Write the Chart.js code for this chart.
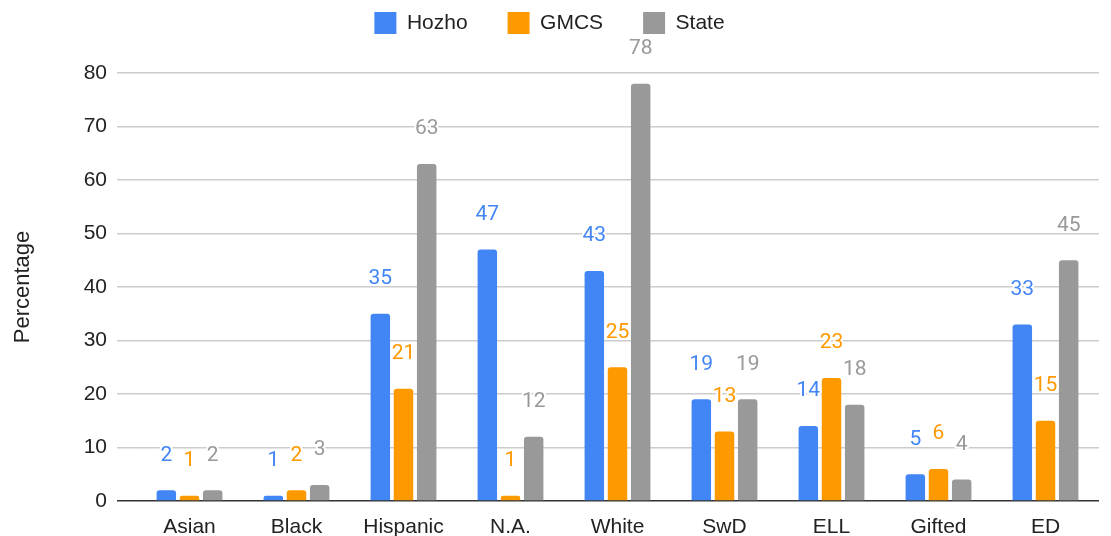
<!DOCTYPE html>
<html>
<head>
<meta charset="utf-8">
<script src="https://cdn.jsdelivr.net/npm/chart.js@4"></script>
<style>
  html, body { margin: 0; padding: 0; background: #fff; }
  #wrap { width: 1111px; height: 536px; position: relative; }
</style>
</head>
<body>
<div id="wrap"><canvas id="demoChart"></canvas></div>
<script>
const categories = ["Asian", "Black", "Hispanic", "N.A.", "White", "SwD", "ELL", "Gifted", "ED"];
const hozho = [2, 1, 35, 47, 43, 19, 14, 5, 33];
const gmcs = [1, 2, 21, 1, 25, 13, 23, 6, 15];
const state = [2, 3, 63, 12, 78, 19, 18, 4, 45];
const seriesNames = ["Hozho", "GMCS", "State"];
const seriesColors = ["#4285F4", "#FF9900", "#999999"];
const yTicks = [0, 10, 20, 30, 40, 50, 60, 70, 80];

// draws the value above each bar, with a white halo like the original
const valueLabels = {
    id: 'valueLabels',
    afterDatasetsDraw(chart) {
        const ctx = chart.ctx;
        chart.data.datasets.forEach((ds, i) => {
            chart.getDatasetMeta(i).data.forEach((bar, j) => {
                const txt = String(ds.data[j]);
                ctx.save();
                ctx.font = '21px Roboto';
                ctx.textAlign = 'center';
                ctx.textBaseline = 'middle';
                ctx.lineJoin = 'round';
                ctx.lineWidth = 4;
                ctx.strokeStyle = '#ffffff';
                ctx.strokeText(txt, bar.x, bar.y - 35);
                ctx.fillStyle = seriesColors[i];
                ctx.fillText(txt, bar.x, bar.y - 35);
                ctx.restore();
            });
        });
    }
};

// legend box gets a fixed height so the plot starts lower
const legendSpace = {
    id: 'legendSpace',
    beforeLayout(chart) {
        if (chart.legend && !chart.legend._patched) {
            const fit = chart.legend.fit;
            chart.legend.fit = function () {
                fit.call(this);
                this.height = 101;
            };
            chart.legend._patched = true;
        }
    }
};

const font = { family: 'Liberation Sans, Arial', size: 21 };

const ctx = document.getElementById('demoChart').getContext('2d');
const chart = new Chart(ctx, {
    type: 'bar',
    data: {
        labels: categories,
        datasets: [hozho, gmcs, state].map((d, i) => ({
            label: seriesNames[i],
            data: d,
            backgroundColor: seriesColors[i],
            borderRadius: 3,
            categoryPercentage: 0.65,
            barPercentage: 0.84
        }))
    },
    options: {
        responsive: true,
        maintainAspectRatio: false,
        animation: false,
        layout: { padding: { top: -28, right: 12, bottom: 0, left: 0 } },
        plugins: {
            legend: {
                position: 'top',
                labels: {
                    boxWidth: 22,
                    boxHeight: 22,
                    padding: 40,
                    color: '#222',
                    font: font
                }
            },
            tooltip: { enabled: false }
        },
        scales: {
            x: {
                grid: { display: false, drawTicks: false },
                border: { display: false },
                afterFit: (axis) => { axis.height = 35; },
                ticks: {
                    color: '#222',
                    padding: 14,
                    font: font
                }
            },
            y: {
                min: 0,
                max: 80,
                afterBuildTicks: (axis) => { axis.ticks = yTicks.map(v => ({ value: v })); },
                afterFit: (axis) => { axis.width = 136; },
                border: { display: false },
                grid: {
                    color: (c) => c.tick && c.tick.value === 0 ? '#333333' : '#cccccc',
                    lineWidth: 1.5,
                    tickLength: 19
                },
                ticks: {
                    color: '#222',
                    padding: 10,
                    font: font
                },
                title: {
                    display: true,
                    text: 'Percentage',
                    color: '#222',
                    padding: { top: 10, bottom: 0 },
                    font: { family: 'Liberation Sans, Arial', size: 22 }
                }
            }
        }
    },
    plugins: [valueLabels, legendSpace]
});
</script>
</body>
</html>
